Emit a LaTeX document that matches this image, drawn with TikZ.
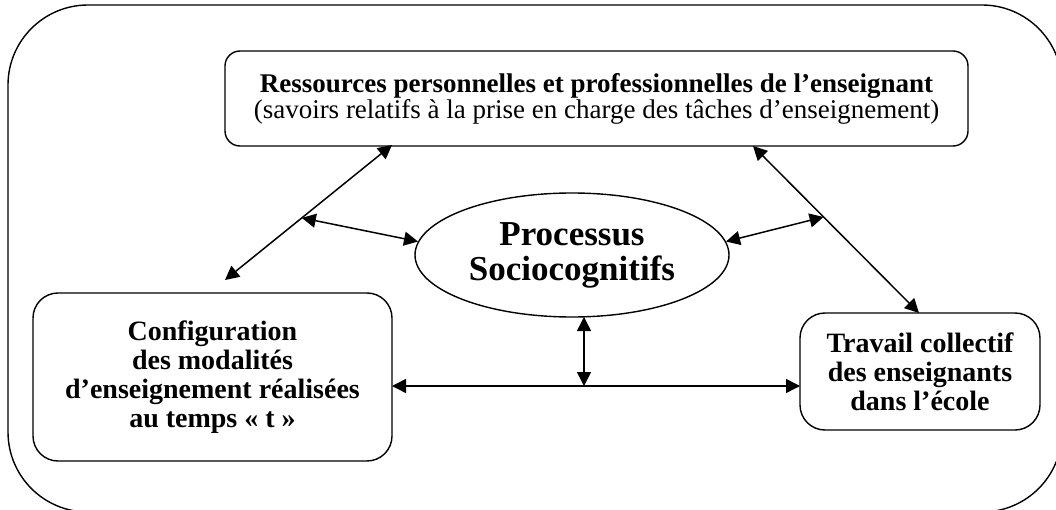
\documentclass[tikz,border=0pt]{standalone}
\usepackage{fontspec}
\setmainfont{Liberation Serif}
\usetikzlibrary{arrows.meta,shapes.geometric,calc}
\begin{document}
\begin{tikzpicture}[x=1pt,y=-1pt,
  box/.style={draw, line width=1.4pt, align=center, inner sep=0pt},
  dbl/.style={{Triangle[length=14pt,width=14pt]}-{Triangle[length=14pt,width=14pt]}, line width=1.5pt},
  bigtxt/.style={font=\fontsize{28}{29}\selectfont\bfseries},
]
\useasboundingbox (0,0) rectangle (1056,510);
\clip (0,0) rectangle (1056,510);
\draw[line width=1.4pt, rounded corners=80pt] (8,5) rectangle (1062,512);

\node[box, rounded corners=15pt, minimum width=743pt, minimum height=95pt,
      font=\fontsize{27}{26}\selectfont] (res) at (596.5,98.5)
  {\textbf{Ressources personnelles et professionnelles de l’enseignant}\\(savoirs relatifs à la prise en charge des tâches d’enseignement)};

\node[draw, line width=1.4pt, ellipse, minimum width=314pt, minimum height=124pt, inner sep=0pt,
      align=center, font=\fontsize{35}{35}\selectfont\bfseries] (proc) at (572,255)
  {Processus\\Sociocognitifs};

\node[box, rounded corners=25pt, minimum width=359pt, minimum height=168pt, bigtxt] (conf) at (212.5,377)
  {Configuration\\des modalités\\d’enseignement réalisées\\au temps « t »};

\node[box, rounded corners=25pt, minimum width=240pt, minimum height=117pt, bigtxt] (trav) at (920,371.5)
  {Travail collectif\\des enseignants\\dans l’école};

\coordinate (ldA) at (225,280);
\coordinate (ldB) at (392,145);
\coordinate (rdA) at (753,146);
\coordinate (rdB) at (919,313);
\coordinate (lm) at ($(ldA)!0.46!(ldB)$);
\coordinate (rm) at ($(rdA)!0.425!(rdB)$);
\coordinate (hl) at (392,386);
\coordinate (hr) at (800,386);
\coordinate (vm) at (584,386);
\coordinate (vt) at (584,317);

\draw[dbl] (ldA) -- (ldB);
\draw[dbl] (lm) -- (proc.175);
\draw[dbl] (rdA) -- (rdB);
\draw[dbl] (rm) -- (proc.5);
\draw[dbl] (hl) -- (hr);
\draw[dbl] (vt) -- (vm);
\end{tikzpicture}
\end{document}
